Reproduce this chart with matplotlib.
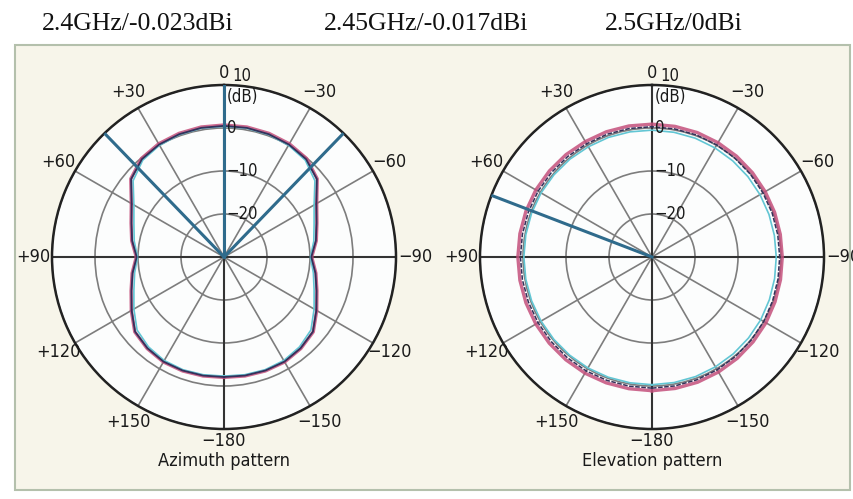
import matplotlib
matplotlib.use('Agg')
import matplotlib.pyplot as plt
import numpy as np
from matplotlib.patches import Rectangle

# header labels for the three frequencies
headers = ['2.4GHz/-0.023dBi', '2.45GHz/-0.017dBi', '2.5GHz/0dBi']

# pattern angles in degrees (0 at top, + to the left), gain in dB
angles = [-180, -170, -160, -150, -140, -130, -120, -110, -100, -90,
          -80, -70, -60, -50, -40, -30, -20, -10, 0,
          10, 20, 30, 40, 50, 60, 70, 80, 90,
          100, 110, 120, 130, 140, 150, 160, 170, 180]

# azimuth pattern
az_24 = [-2.0, -1.9, -1.8, -1.8, -2.2, -2.9, -5.1, -7.0, -8.3, -9.6,
         -8.2, -7.0, -5.1, -1.7, -0.1, 0.4, 0.6, 0.7, 0.7,
         0.7, 0.6, 0.4, -0.1, -1.7, -5.1, -7.0, -8.2, -9.6,
         -8.3, -7.0, -5.1, -2.9, -2.2, -1.8, -1.8, -1.9, -2.0]
az_245 = [-2.1, -2.0, -1.9, -1.9, -2.3, -3.0, -5.2, -7.1, -8.4, -9.7,
          -8.3, -7.1, -5.2, -1.8, -0.3, 0.2, 0.4, 0.5, 0.5,
          0.5, 0.4, 0.2, -0.3, -1.8, -5.2, -7.1, -8.3, -9.7,
          -8.4, -7.1, -5.2, -3.0, -2.3, -1.9, -1.9, -2.0, -2.1]
az_25 = [-2.3, -2.2, -2.1, -2.2, -2.7, -3.6, -5.8, -7.7, -8.9, -9.9,
         -8.8, -7.7, -5.8, -2.4, -0.6, 0.0, 0.3, 0.4, 0.4,
         0.4, 0.3, 0.0, -0.6, -2.4, -5.8, -7.7, -8.8, -9.9,
         -8.9, -7.7, -5.8, -3.6, -2.7, -2.2, -2.1, -2.2, -2.3]

# elevation pattern
el_24 = [1.1, 1.05, 1.0, 0.9, 0.8, 0.7, 0.6, 0.45, 0.35, 0.3,
         0.3, 0.35, 0.4, 0.5, 0.6, 0.7, 0.8, 0.85, 0.9,
         0.95, 1.0, 1.0, 1.1, 1.15, 1.2, 1.2, 1.2, 1.2,
         1.2, 1.2, 1.2, 1.2, 1.2, 1.2, 1.15, 1.1, 1.1]
el_245 = [0.5, 0.45, 0.4, 0.3, 0.2, 0.1, 0.0, -0.15, -0.25, -0.3,
          -0.3, -0.25, -0.2, -0.1, 0.0, 0.1, 0.2, 0.25, 0.3,
          0.35, 0.4, 0.4, 0.5, 0.55, 0.6, 0.6, 0.6, 0.6,
          0.6, 0.6, 0.6, 0.6, 0.6, 0.6, 0.55, 0.5, 0.5]
el_25 = [-0.3, -0.35, -0.4, -0.5, -0.6, -0.7, -0.8, -0.95, -1.05, -1.1,
         -1.1, -1.05, -1.0, -0.9, -0.8, -0.7, -0.6, -0.55, -0.5,
         -0.45, -0.4, -0.4, -0.3, -0.25, -0.2, -0.2, -0.2, -0.2,
         -0.2, -0.2, -0.2, -0.2, -0.2, -0.2, -0.25, -0.3, -0.3]

# azimuth / elevation marker lines (deg)
az_markers = [0, 44, -44]
el_markers = [69]

theta_labels = ['0', '+30', '+60', '+90', '+120', '+150', '\u2212180',
                '\u2212150', '\u2212120', '\u221290', '\u221260', '\u221230']
theta_pos = [0, 30, 60, 90, 120, 150, 180, 210, 240, 270, 300, 330]
ring_vals = [-20, -10, 0, 10]
ring_labels = ['\u221220', '\u221210', '0', '10']

C_PINK = '#c4507c'
C_DARK = '#35305a'
C_CYAN = '#62c6d4'
C_MARK = '#2f6b8c'
LBL = dict(family='DejaVu Sans', fontstretch='condensed', color='#1a1a1a')

W, H = 854, 499
fig = plt.figure(figsize=(W / 100, H / 100), dpi=100)
fig.patch.set_facecolor('white')
fig.patches.append(Rectangle((15 / W, 9 / H), 835 / W, 445 / H, transform=fig.transFigure,
                             facecolor='#f7f5ea', edgecolor='#b4c0ac', lw=1.5, zorder=-5))

for i, txt in enumerate(headers):
    fig.text([42, 324, 605][i] / W, 1 - 24 / H, txt, ha='left', va='center',
             fontsize=18.5, family='Liberation Serif', color='#111111')


def draw_panel(cx, title, series, markers, dashed_mid):
    R = 172
    ax = fig.add_axes([(cx - R) / W, (H - 257 - R) / H, 2 * R / W, 2 * R / H],
                      projection='polar')
    ax.set_theta_zero_location('N')
    ax.set_theta_direction(1)
    ax.set_ylim(-30, 10)
    ax.set_facecolor('#fcfdfd')
    ax.set_rgrids(ring_vals, labels=[''] * 4)
    ax.set_thetagrids(theta_pos, labels=[''] * 12)
    ax.grid(True, color='#7d7d7d', lw=1.2)
    ax.spines['polar'].set_color('#222222')
    ax.spines['polar'].set_linewidth(1.8)
    # darker main axes
    for a in (0, 90, 180, 270):
        ax.plot(np.radians([a, a]), [-30, 10], color='#333333', lw=1.5, zorder=2)

    th = np.radians(angles)
    ax.plot(th, series[0], color=C_PINK, lw=2.4, alpha=0.85, zorder=3)
    ax.plot(th, series[2], color=C_CYAN, lw=1.2, zorder=3)
    if dashed_mid:
        ax.plot(th, series[1], color=C_DARK, lw=1.1, ls=(0, (3, 1)), zorder=4)
    else:
        ax.plot(th, series[1], color=C_DARK, lw=1.3, zorder=4)

    for m in markers:
        ax.plot(np.radians([m, m]), [-30, 10], color=C_MARK, lw=2.2, zorder=5)

    for lbl, p in zip(theta_labels, theta_pos):
        r = 12.8 if p in (0, 180) else 14.4
        ax.text(np.radians(p), r, lbl, ha='center', va='center', fontsize=13,
                clip_on=False, **LBL)

    for lbl, rv in zip(ring_labels, ring_vals):
        if rv == 10:
            ax.annotate(lbl, xy=(0, rv), xytext=(6, 0), textcoords='offset points',
                        ha='left', va='bottom', fontsize=12, annotation_clip=False,
                        zorder=6, **LBL)
        else:
            ax.annotate(lbl, xy=(0, rv), xytext=(2, 0), textcoords='offset points',
                        ha='left', va='center', fontsize=12, annotation_clip=False,
                        zorder=6, **LBL)
    ax.annotate('(dB)', xy=(0, 10), xytext=(2, -2), textcoords='offset points',
                ha='left', va='top', fontsize=12, annotation_clip=False, zorder=6, **LBL)

    fig.text(cx / W, 1 - 461 / H, title, ha='center', va='center', fontsize=13, **LBL)


draw_panel(224, 'Azimuth pattern', [az_24, az_245, az_25], az_markers, False)
draw_panel(652, 'Elevation pattern', [el_24, el_245, el_25], el_markers, True)

fig.savefig('out.png', dpi=100)
